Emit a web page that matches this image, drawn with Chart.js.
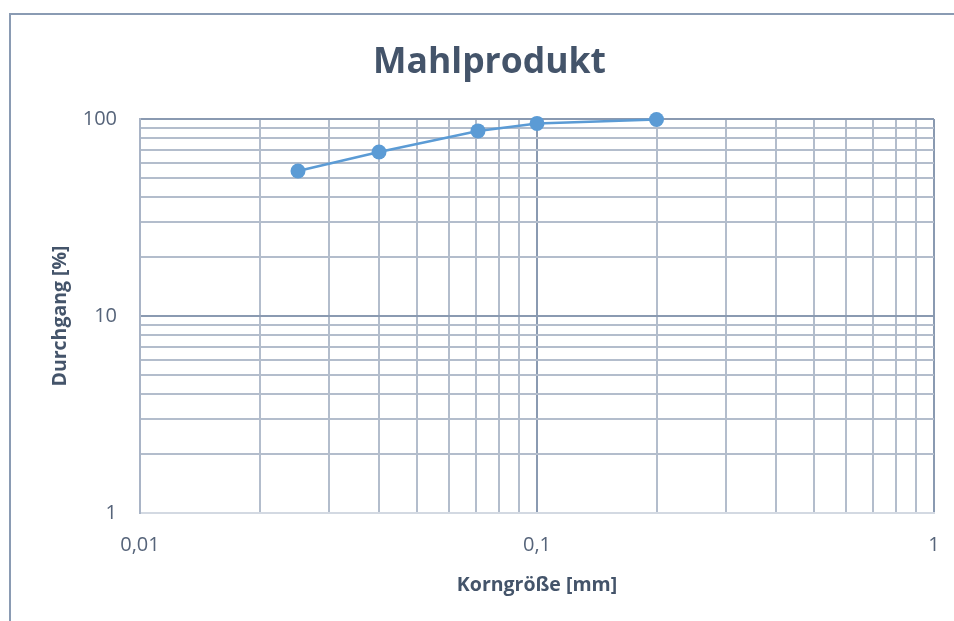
<!DOCTYPE html>
<html>
<head>
<meta charset="utf-8">
<script src="https://cdn.jsdelivr.net/npm/chart.js@4/dist/chart.umd.min.js"></script>
<style>
  html, body { margin: 0; padding: 0; background: #ffffff; }
  #wrap { position: relative; width: 954px; height: 621px; overflow: hidden; }
  #frame { position: absolute; left: 9px; top: 13px; width: 1000px; height: 700px;
           border-left: 2.5px solid #8a9bb3; border-top: 2.5px solid #8a9bb3; box-sizing: border-box; }
  canvas { position: absolute; left: 0; top: 0; }
</style>
</head>
<body>
<div id="wrap">
  <div id="frame"></div>
  <canvas id="chart" width="954" height="621"></canvas>
</div>
<script>
// Sieve analysis of the milled product (log-log grading curve)
const chartTitle = 'Mahlprodukt';
const xAxisTitle = 'Korngröße [mm]';
const yAxisTitle = 'Durchgang [%]';

const grainSize = [0.025, 0.04, 0.071, 0.1, 0.2];   // mm
const passing   = [54.5, 68, 87, 95, 99.5];          // %

const xDecades = [0.01, 0.1, 1];
const xDecadeLabels = ['0,01', '0,1', '1'];
const yDecades = [1, 10, 100];
const yDecadeLabels = ['1', '10', '100'];

const TEXT = '#44546a';
const TICK_TEXT = '#56647a';
const MINOR_GRID = '#b3bdcc';
const MAJOR_GRID = '#8a9ab1';

// 1..9 multiples of every decade, used for the log grid lines
function logGridValues(decades) {
  const vals = [];
  for (let d = 0; d < decades.length - 1; d++) {
    for (let m = 1; m <= 9; m++) vals.push(+(decades[d] * m).toPrecision(6));
  }
  vals.push(decades[decades.length - 1]);
  return vals;
}
function decadeIndex(decades, v) {
  return decades.findIndex(d => Math.abs(d - v) / d < 1e-6);
}

const titlePlugin = {
  id: 'chartHeading',
  afterDraw(chart) {
    const ctx = chart.ctx;
    ctx.save();
    ctx.font = 'bold 35.5px "Open Sans"';
    ctx.fillStyle = TEXT;
    ctx.textAlign = 'center';
    ctx.textBaseline = 'alphabetic';
    ctx.fillText(chartTitle, 489.5, 73);
    ctx.restore();
  }
};

new Chart(document.getElementById('chart'), {
  type: 'line',
  data: {
    datasets: [{
      data: grainSize.map((x, i) => ({ x: x, y: passing[i] })),
      borderColor: '#5b9bd5',
      backgroundColor: '#5b9bd5',
      borderWidth: 2.5,
      pointRadius: 7.5,
      pointHoverRadius: 7.5,
      pointBorderWidth: 0,
      pointBackgroundColor: '#5b9bd5',
      tension: 0,
      clip: false
    }]
  },
  options: {
    responsive: false,
    animation: false,
    events: [],
    layout: { padding: { top: 119, right: 20, left: 0, bottom: 0 } },
    plugins: {
      legend: { display: false },
      title: { display: false },
      tooltip: { enabled: false }
    },
    scales: {
      x: {
        type: 'logarithmic',
        min: 0.01,
        max: 1,
        afterBuildTicks(scale) { scale.ticks = logGridValues(xDecades).map(v => ({ value: v })); },
        afterFit(scale) { scale.height = 108; scale.paddingLeft = 0; scale.paddingRight = 0; },
        ticks: {
          autoSkip: false,
          maxRotation: 0,
          padding: 20,
          color: TICK_TEXT,
          font: { family: '"Open Sans"', size: 20 },
          callback(value) {
            const i = decadeIndex(xDecades, value);
            return i >= 0 ? xDecadeLabels[i] : '';
          }
        },
        grid: {
          drawTicks: false,
          color: ctx => decadeIndex(xDecades, ctx.tick.value) >= 0 ? MAJOR_GRID : MINOR_GRID,
          lineWidth: 2
        },
        border: { display: true, color: '#d3d9e2', width: 2 },
        title: {
          display: true,
          text: xAxisTitle,
          color: TEXT,
          font: { family: '"Open Sans"', size: 19.5, weight: 'bold' },
          padding: { top: 0, bottom: 24 }
        }
      },
      y: {
        type: 'logarithmic',
        min: 1,
        max: 100,
        afterBuildTicks(scale) { scale.ticks = logGridValues(yDecades).map(v => ({ value: v })); },
        afterFit(scale) { scale.width = 140; scale.paddingTop = 0; scale.paddingBottom = 0; },
        ticks: {
          autoSkip: false,
          padding: 23,
          color: TICK_TEXT,
          font: { family: '"Open Sans"', size: 20 },
          callback(value) {
            const i = decadeIndex(yDecades, value);
            return i >= 0 ? yDecadeLabels[i] : '';
          }
        },
        grid: {
          drawTicks: false,
          color: ctx => decadeIndex(yDecades, ctx.tick.value) >= 0 ? MAJOR_GRID : MINOR_GRID,
          lineWidth: 2
        },
        border: { display: true, color: '#a9b4c6', width: 2 },
        title: {
          display: true,
          text: yAxisTitle,
          color: TEXT,
          font: { family: '"Open Sans"', size: 19.5, weight: 'bold' },
          padding: { top: 49, bottom: 0 }
        }
      }
    }
  },
  plugins: [titlePlugin]
});
</script>
</body>
</html>
